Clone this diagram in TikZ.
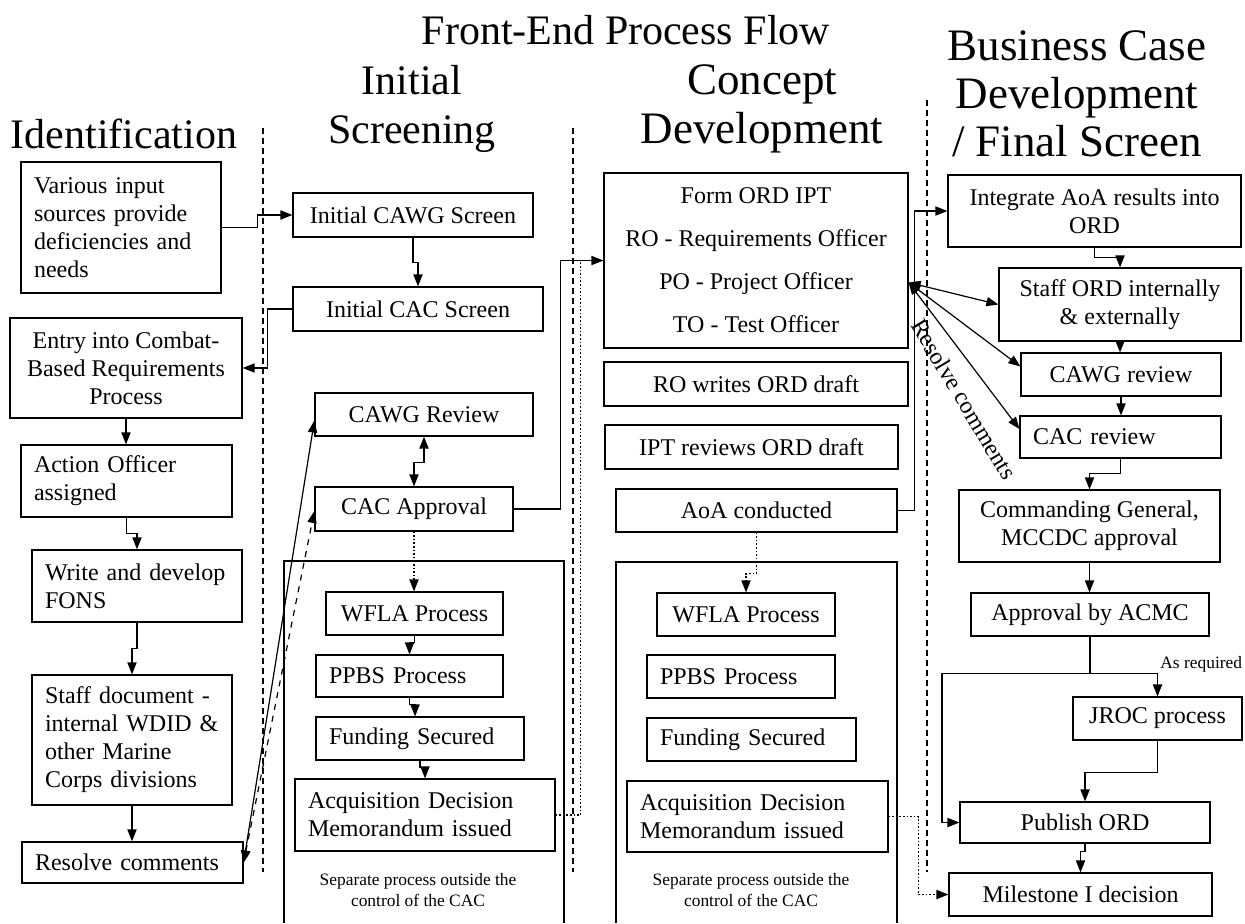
\documentclass[tikz,border=0pt]{standalone}
\usepackage{fontspec}
\setmainfont{Liberation Serif}
\usetikzlibrary{arrows.meta,calc}

\begin{document}
\begin{tikzpicture}[
  x=0.5pt, y=-0.5pt,
  font=\fontsize{12}{14}\selectfont,
  box/.style={draw, line width=0.6pt, align=center, inner sep=1pt},
  lbox/.style={draw, line width=0.6pt, align=left, inner xsep=6.5pt, inner ysep=1pt},
  head/.style={font=\fontsize{21}{23}\selectfont, anchor=base},
  bighead/.style={font=\fontsize{22.5}{24}\selectfont, anchor=base},
  note/.style={font=\fontsize{8.7}{10.5}\selectfont, align=center},
  arr/.style={line width=0.6pt, -{Triangle[length=6pt,width=4.6pt]}},
  darr/.style={line width=0.6pt, {Triangle[length=6pt,width=4.6pt]}-{Triangle[length=6pt,width=4.6pt]}},
  dotarr/.style={arr, dash pattern=on 0.8pt off 1pt},
  dotline/.style={line width=0.6pt, dash pattern=on 0.8pt off 1pt},
  sep/.style={line width=0.6pt, dash pattern=on 3pt off 2pt},
  frame/.style={line width=0.6pt}
]
  \useasboundingbox (0,0) rectangle (1245,923);

  % headings
  \node[head] (title) at (626,44) {Front-End Process Flow};
  \node[head] (hid)  at (124,148) {Identification};
  \node[head] (his1) at (412,94)  {Initial};
  \node[head] (his2) at (412,143) {Screening};
  \node[bighead] (hcd1) at (762,94)  {Concept};
  \node[bighead] (hcd2) at (762,143) {Development};
  \node[bighead] (hbc1) at (1077,60)  {Business Case};
  \node[bighead] (hbc2) at (1077,108) {Development};
  \node[bighead] (hbc3) at (1077,156) {/ Final Screen};

  \foreach \x/\t in {263/128, 573/128, 927/100}
    \draw[sep] (\x,\t) -- (\x,872);

  % identification
  \node[lbox, text width=87pt, minimum height=65.5pt] (vis) at (121,227.5) {Various input\\sources provide\\deficiencies and\\needs};
  \node[box, minimum width=116pt, minimum height=50pt] (entry) at (126,368) {Entry into Combat-\\Based Requirements\\Process};
  \node[lbox, text width=92.5pt, minimum height=36pt] (ao) at (126.5,481) {Action Officer\\assigned};
  \node[lbox, text width=92pt, minimum height=36pt] (fons) at (137,586) {Write and develop\\FONS};
  \node[lbox, text width=87pt, minimum height=65pt] (stdoc) at (132,740) {Staff document -\\internal WDID \&\\other Marine\\Corps divisions};
  \node[lbox, text width=97.5pt, minimum height=20.5pt] (rslv) at (132.5,862.5) {Resolve comments};

  % initial screening
  \node[box, minimum width=120pt, minimum height=22pt] (cawgs) at (413,215) {Initial CAWG Screen};
  \node[box, minimum width=125pt, minimum height=22pt] (cacs) at (418,309) {Initial CAC Screen};
  \node[box, minimum width=109pt, minimum height=21.5pt] (cawgr) at (424,414.5) {CAWG Review};
  \node[box, minimum width=99pt, minimum height=22pt] (caca) at (414,509) {CAC Approval};
  \draw[frame] (284,923) |- (564,561) -- (564,923);
  \node[box, minimum width=88.5pt, minimum height=21.5pt] (wfla1) at (414.5,613.5) {WFLA Process};
  \node[lbox, text width=80.5pt, minimum height=21pt] (ppbs1) at (409.5,676) {PPBS Process};
  \node[lbox, text width=91pt, minimum height=21.5pt] (fund1) at (420,738.5) {Funding Secured};
  \node[lbox, text width=117pt, minimum height=36pt] (adm1) at (425,815) {Acquisition Decision\\Memorandum issued};
  \node[note] (sep1) at (418,890) {Separate process outside the\\control of the CAC};

  % concept development
  \node[box, minimum width=152pt, minimum height=87.5pt] (ord) at (756,260.5) {Form ORD IPT\\[7.5pt]RO - Requirements Officer\\[7.5pt]PO - Project Officer\\[7.5pt]TO - Test Officer};
  \node[box, minimum width=152pt, minimum height=22pt] (row) at (756,384) {RO writes ORD draft};
  \node[box, minimum width=146.5pt, minimum height=22pt] (ipt) at (751.5,447) {IPT reviews ORD draft};
  \node[box, minimum width=140.5pt, minimum height=21.5pt] (aoa) at (756.5,510.5) {AoA conducted};
  \draw[frame] (616,923) |- (897,562) -- (897,923);
  \node[box, minimum width=89pt, minimum height=21.5pt] (wfla2) at (746,614.5) {WFLA Process};
  \node[lbox, text width=81pt, minimum height=21.5pt] (ppbs2) at (741,676.5) {PPBS Process};
  \node[lbox, text width=91.5pt, minimum height=21.5pt] (fund2) at (751.5,739.5) {Funding Secured};
  \node[lbox, text width=117.5pt, minimum height=35.5pt] (adm2) at (757.5,816.5) {Acquisition Decision\\Memorandum issued};
  \node[note] (sep2) at (751,890) {Separate process outside the\\control of the CAC};

  % business case / final screen
  \node[box, minimum width=146.5pt, minimum height=36pt] (integ) at (1094.5,211) {Integrate AoA results into\\ORD};
  \node[box, minimum width=121pt, minimum height=36.5pt] (stord) at (1120,304.5) {Staff ORD internally\\\& externally};
  \node[box, minimum width=100pt, minimum height=21.5pt] (cawgrv) at (1121,374.5) {CAWG review};
  \node[lbox, text width=87.5pt, minimum height=21pt] (cacrv) at (1120.5,437) {CAC review};
  \node[box, minimum width=130.5pt, minimum height=36pt] (cg) at (1089.5,526) {Commanding General,\\MCCDC approval};
  \node[box, minimum width=119pt, minimum height=21.5pt] (acmc) at (1090,614.5) {Approval by ACMC};
  \node[box, minimum width=84.5pt, minimum height=21.5pt] (jroc) at (1157.5,718.5) {JROC process};
  \node[box, minimum width=125pt, minimum height=20.5pt] (pub) at (1085,822.5) {Publish ORD};
  \node[box, minimum width=131.5pt, minimum height=21.5pt] (mile) at (1080.5,894.5) {Milestone I decision};
  \node[note, anchor=base west, inner xsep=0.5pt] (asreq) at (1159,668) {As required};

  % connectors
  \draw[arr] (vis.east) -- ++(36,0) |- (cawgs.west);
  \draw[arr] (cawgs.south) -- ++(0,25) -| (cacs.north);
  \draw[arr] (cacs.west) -- ++(-25,0) |- (entry.east);
  \draw[arr] (entry.south) -- (entry.south |- ao.north);
  \draw[arr] (ao.south) -- ++(0,16) -| (fons.north);
  \draw[arr] (fons.south) -- ++(0,26) -| (stdoc.north);
  \draw[arr] (stdoc.south) -- (stdoc.south |- rslv.north);
  \draw[darr] (rslv.east) -- ([yshift=-3pt]cawgr.west);
  \draw[darr, dashed] (rslv.east) -- ([yshift=-1pt]caca.west);
  \draw[darr] (cawgr.south) -- ++(0,26) -| (caca.north);
  \draw[arr] (caca.east) -- ++(47,0) |- (ord.west);
  \draw[dotarr] (caca.south) -- (caca.south |- wfla1.north);
  \draw[arr] (wfla1.south) -- ++(0,7) -| (ppbs1.north);
  \draw[arr] (ppbs1.south) -- ++(0,7) -| ([xshift=-2.5pt]fund1.north);
  \draw[arr] (fund1.south) -- ++(0,7) -| (adm1.north);
  \draw[dotline] (adm1.east) -- ++(25,0) |- (ord.west);

  \draw[arr] (aoa.east) -- ++(17,0) |- (integ.west);
  \draw[dotarr] (aoa.south) -- ++(0,41) -| (wfla2.north);
  \draw[dotarr] (adm2.east) -- ++(30,0) |- (mile.west);
  \coordinate (hub) at ([yshift=-11pt]ord.east);
  \foreach \t/\s in {stord/0pt, cawgrv/4pt, cacrv/4pt}
    \draw[darr] (hub) -- ([yshift=\s]\t.west);
  \node[rotate=-59, inner sep=1pt] (rcom) at (964,399) {Resolve comments};

  \draw[arr] (integ.south) -- ++(0,10) -| (stord.north);
  \draw[arr] (stord.south) -- (stord.south |- cawgrv.north);
  \draw[arr] (cawgrv.south) -- (cawgrv.south |- cacrv.north);
  \draw[arr] (cacrv.south) -- ++(0,15) -| (cg.north);
  \draw[arr] (cg.south) -- (cg.south |- acmc.north);
  \draw[arr] (acmc.south) -- ++(0,37) -| (jroc.north);
  \draw[arr] (acmc.south) -- ++(0,37) -- ++(-148,0) |- (pub.west);
  \draw[arr] (jroc.south) -- ++(0,32) -| (pub.north);
  \draw[arr] (pub.south) -- ++(0,8) -| (mile.north);
\end{tikzpicture}
\end{document}
